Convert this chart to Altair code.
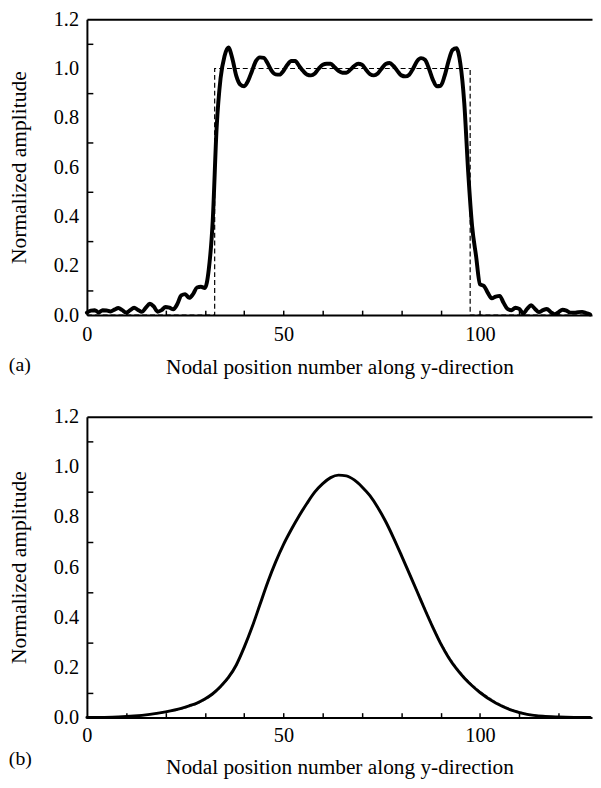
import altair as alt
import pandas as pd

# ---------------- data ----------------
# panel (a): reconstructed profile (thick) at every nodal position 0..128
a_node = list(range(0, 129))
a_recon = [
    0.010, 0.018, 0.020, 0.011, 0.020, 0.019, 0.015, 0.022, 0.029, 0.020,
    0.010, 0.020, 0.030, 0.021, 0.013, 0.030, 0.046, 0.035, 0.014, 0.020,
    0.033, 0.030, 0.024, 0.045, 0.080, 0.085, 0.070, 0.085, 0.112, 0.115,
    0.110, 0.185, 0.380, 0.760, 0.960, 1.050, 1.085, 1.040, 0.970, 0.935,
    0.928, 0.950, 0.990, 1.030, 1.045, 1.043, 1.020, 0.990, 0.976, 0.975,
    0.990, 1.015, 1.030, 1.030, 1.010, 0.990, 0.975, 0.972, 0.980, 1.000,
    1.015, 1.019, 1.019, 1.005, 0.990, 0.983, 0.983, 0.995, 1.010, 1.019,
    1.015, 0.995, 0.977, 0.972, 0.980, 1.000, 1.018, 1.022, 1.010, 0.990,
    0.972, 0.968, 0.975, 1.000, 1.030, 1.042, 1.035, 1.000, 0.955, 0.928,
    0.930, 0.970, 1.030, 1.075, 1.082, 1.020, 0.860, 0.580, 0.360, 0.240,
    0.125, 0.118, 0.090, 0.068, 0.075, 0.078, 0.050, 0.025, 0.020, 0.030,
    0.025, 0.007, 0.025, 0.040, 0.025, 0.012, 0.020, 0.025, 0.012, 0.004,
    0.012, 0.022, 0.018, 0.010, 0.010, 0.012, 0.013, 0.008, 0.003,
]
# panel (a): exact rectangular profile (dashed)
a_rect_node = [0, 32.5, 32.5, 97.5, 97.5, 128]
a_rect_amp = [0, 0, 1, 1, 0, 0]

# panel (b): reconstructed (thick) and exact (thin dashed) bell profiles
b_node = [0, 4, 8, 12, 16, 20, 24, 26, 28, 30, 32, 34, 36, 38, 40, 42, 44, 46,
          48, 50, 52, 54, 56, 58, 60, 62, 64, 66, 68, 70, 72, 74, 76, 78, 80,
          82, 84, 86, 88, 90, 92, 94, 96, 98, 100, 104, 108, 112, 116, 120,
          124, 128]
b_recon = [0.000, 0.0005, 0.002, 0.006, 0.013, 0.023, 0.037, 0.047, 0.058,
           0.074, 0.095, 0.124, 0.160, 0.210, 0.280, 0.360, 0.450, 0.540,
           0.620, 0.690, 0.750, 0.805, 0.855, 0.900, 0.933, 0.957, 0.967,
           0.964, 0.948, 0.920, 0.885, 0.838, 0.782, 0.717, 0.647, 0.575,
           0.503, 0.430, 0.360, 0.295, 0.240, 0.195, 0.158, 0.127, 0.100,
           0.058, 0.030, 0.013, 0.005, 0.002, 0.0005, 0.000]
b_exact = [0.000, 0.0004, 0.0015, 0.005, 0.011, 0.020, 0.033, 0.042, 0.053,
           0.069, 0.089, 0.118, 0.153, 0.203, 0.273, 0.354, 0.446, 0.537,
           0.618, 0.689, 0.750, 0.805, 0.856, 0.901, 0.934, 0.958, 0.967,
           0.965, 0.950, 0.923, 0.888, 0.842, 0.787, 0.722, 0.652, 0.581,
           0.509, 0.437, 0.367, 0.302, 0.247, 0.202, 0.165, 0.133, 0.106,
           0.063, 0.033, 0.015, 0.006, 0.002, 0.0005, 0.000]

x_label_vals = [0, 50, 100]
x_tick_vals = [10, 20, 30, 40, 50, 60, 70, 80, 90, 100, 110, 120]
y_label_vals = [0.0, 0.2, 0.4, 0.6, 0.8, 1.0, 1.2]
y_tick_vals = [0.1, 0.3, 0.5, 0.7, 0.9, 1.1]

X_TITLE = "Nodal position number along y-direction"
Y_TITLE = "Normalized amplitude"
FONT = "Liberation Serif"
W = 512

# ---------------- tables ----------------
df_a_recon = pd.DataFrame({"node": a_node, "amp": a_recon})
df_a_rect = pd.DataFrame({"node": a_rect_node, "amp": a_rect_amp,
                          "order": list(range(len(a_rect_node)))})
df_b_recon = pd.DataFrame({"node": b_node, "amp": b_recon})
df_b_exact = pd.DataFrame({"node": b_node, "amp": b_exact,
                           "order": list(range(len(b_node)))})

xs = alt.Scale(domain=[0, 128.5], nice=False, zero=False)
ys = alt.Scale(domain=[0, 1.2], nice=False, zero=False)


def main_x(label_pad, title_pad):
    return alt.Axis(orient="bottom", values=x_label_vals, ticks=False, tickSize=0,
                    domain=True, domainColor="black", domainWidth=2, grid=False,
                    labelFlush=False, labelFont=FONT, labelFontSize=20.5,
                    labelColor="black", labelPadding=label_pad,
                    title=X_TITLE, titleFont=FONT, titleFontSize=21.6,
                    titleFontWeight="normal", titleColor="black",
                    titlePadding=title_pad)


def main_y(title_pad):
    return alt.Axis(orient="left", values=y_label_vals, format=".1f", ticks=False,
                    tickSize=0, domain=True, domainColor="black", domainWidth=2,
                    grid=False, labelFlush=False, labelFont=FONT, labelFontSize=20.5,
                    labelColor="black", labelPadding=8.5,
                    title=Y_TITLE, titleFont=FONT, titleFontSize=21.8,
                    titleFontWeight="normal", titleColor="black",
                    titlePadding=title_pad)


tick_x = alt.Axis(orient="bottom", values=x_tick_vals, ticks=True, tickSize=5,
                  tickWidth=1.5, tickColor="black", labels=False, domain=False,
                  grid=False, title=None, offset=-5)
tick_y = alt.Axis(orient="left", values=y_tick_vals, ticks=True, tickSize=6,
                  tickWidth=1.5, tickColor="black", labels=False, domain=False,
                  grid=False, title=None, offset=-6)
top_x = alt.Axis(orient="top", ticks=False, labels=False, domain=True,
                 domainColor="black", domainWidth=2, grid=False, title=None)


def panel(df_thick, thick_width, df_dash, dash_color, dash_width, dash_pattern,
          height, tag, label_pad, title_pad, tag_offset):
    dash = alt.Chart(df_dash).mark_line(
        color=dash_color, strokeWidth=dash_width, strokeDash=dash_pattern
    ).encode(
        x=alt.X("node:Q", scale=xs, axis=main_x(label_pad, title_pad)),
        y=alt.Y("amp:Q", scale=ys, axis=main_y(23)),
        order="order:Q",
    )
    thick = alt.Chart(df_thick).mark_line(
        color="black", strokeWidth=thick_width, interpolate="monotone",
        strokeJoin="round", strokeCap="round"
    ).encode(
        x=alt.X("node:Q", scale=xs, axis=tick_x),
        y=alt.Y("amp:Q", scale=ys, axis=tick_y),
    )
    frame = alt.Chart(df_thick).mark_line(opacity=0).encode(
        x=alt.X("node:Q", scale=xs, axis=top_x),
        y=alt.Y("amp:Q", scale=ys, axis=None),
    )
    return alt.layer(dash, thick, frame).resolve_axis(
        x="independent", y="independent"
    ).properties(
        width=W, height=height,
        title=alt.TitleParams(tag, orient="bottom", anchor="start", frame="bounds",
                              font=FONT, fontSize=20, fontWeight="normal",
                              color="black", offset=tag_offset),
    )


top = panel(df_a_recon, 4, df_a_rect, "black", 1.2, [5, 3], 300, "(a)", 10, 12, -23)
bottom = panel(df_b_recon, 3, df_b_exact, "#777777", 1, [3, 2], 305, "(b)", 8.5, 11, -30)

chart = alt.vconcat(top, bottom, spacing=28).properties(
    padding={"left": 0, "top": -4, "right": 0, "bottom": 0},
    background="white",
).configure_view(stroke=None)

chart.save("out.html", embed_options={"renderer": "svg", "actions": False})
